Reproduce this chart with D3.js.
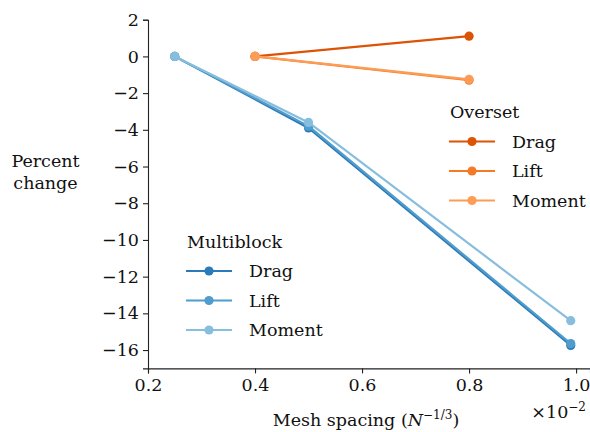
<!DOCTYPE html>
<html>
<head>
<meta charset="utf-8">
<script src="https://cdn.jsdelivr.net/npm/d3@7"></script>
<style>
  html, body { margin: 0; padding: 0; background: #fff; }
  svg text { font-family: "DejaVu Serif", serif; fill: #111; }
</style>
</head>
<body>
<svg id="chart" width="590" height="432"></svg>
<script>
// Mesh spacing values (×10^-2) for each grid family
const multiblockSpacing = [0.25, 0.5, 0.99];
const oversetSpacing = [0.4, 0.8];

// Percent change of each force coefficient
const multiblockDrag = [0, -3.9, -15.75];
const multiblockLift = [0, -3.8, -15.65];
const multiblockMoment = [0, -3.6, -14.4];
const oversetDrag = [0, 1.1];
const oversetLift = [0, -1.3];
const oversetMoment = [0, -1.25];

const seriesNames = ["Drag", "Lift", "Moment"];
const xTicks = [0.2, 0.4, 0.6, 0.8, 1.0];
const yTicks = [-16, -14, -12, -10, -8, -6, -4, -2, 0, 2];

const blues = ["#2b7bba", "#4f9ccd", "#88bedd"];
const oranges = ["#dc5306", "#f47a28", "#fc9c55"];

const FONT = "DejaVu Serif, serif";
const FS = 17.5;
const svg = d3.select("#chart");

const x = d3.scaleLinear().domain([0.2, 1.026]).range([148, 590]);
const y = d3.scaleLinear().domain([-17, 2]).range([368.4, 19.7]);

// Axes: left and bottom spines only
const xAxis = d3.axisBottom(x).tickValues(xTicks).tickFormat(d3.format(".1f")).tickSizeOuter(0).tickSize(5).tickPadding(5);
const yAxis = d3.axisLeft(y).tickValues(yTicks)
  .tickFormat(d => (d < 0 ? "\u2212" + Math.abs(d) : String(d)))
  .tickSizeOuter(0).tickSize(5).tickPadding(4);

const gx = svg.append("g").attr("transform", `translate(0,${y(-17)})`).call(xAxis);
const gy = svg.append("g").attr("transform", `translate(${x(0.2)},0)`).call(yAxis);
[gx, gy].forEach(g => {
  g.attr("font-family", FONT);
  g.select(".domain").attr("stroke", "#222").attr("stroke-width", 1.1);
  g.selectAll(".tick line").attr("stroke", "#222").attr("stroke-width", 1.1);
  g.selectAll(".tick text").attr("font-size", FS).attr("font-family", FONT).attr("fill", "#111");
});

// Series drawing
const line = d3.line().x(d => x(d[0])).y(d => y(d[1]));

function drawSeries(xs, ys, color) {
  const pts = xs.map((v, i) => [v, ys[i]]);
  svg.append("path").datum(pts).attr("d", line)
    .attr("fill", "none").attr("stroke", color).attr("stroke-width", 2.2)
    .attr("stroke-linejoin", "round");
  svg.append("g").selectAll("circle").data(pts).join("circle")
    .attr("cx", d => x(d[0])).attr("cy", d => y(d[1])).attr("r", 4.6)
    .attr("fill", color);
}

[multiblockDrag, multiblockLift, multiblockMoment].forEach((s, i) => drawSeries(multiblockSpacing, s, blues[i]));
[oversetDrag, oversetLift, oversetMoment].forEach((s, i) => drawSeries(oversetSpacing, s, oranges[i]));

// Legends
function legend(x0, y0, title, colors) {
  const g = svg.append("g").attr("font-family", FONT);
  g.append("text").attr("x", x0).attr("y", y0).attr("dy", "0.35em")
    .attr("font-size", FS).text(title);
  seriesNames.forEach((name, i) => {
    const yy = y0 + 29.5 * (i + 1);
    g.append("line").attr("x1", x0 - 1).attr("x2", x0 + 45).attr("y1", yy).attr("y2", yy)
      .attr("stroke", colors[i]).attr("stroke-width", 2.2);
    g.append("circle").attr("cx", x0 + 22).attr("cy", yy).attr("r", 4.6).attr("fill", colors[i]);
    g.append("text").attr("x", x0 + 62).attr("y", yy).attr("dy", "0.35em")
      .attr("font-size", FS).text(name);
  });
}
legend(450, 112, "Overset", oranges);
legend(187, 241.5, "Multiblock", blues);

// Axis titles
const yl = svg.append("text").attr("text-anchor", "middle").attr("font-size", FS).attr("font-family", FONT);
yl.append("tspan").attr("x", 45.5).attr("y", 167).text("Percent");
yl.append("tspan").attr("x", 45.5).attr("y", 189).text("change");

const xl = svg.append("text").attr("x", 366).attr("y", 426).attr("text-anchor", "middle")
  .attr("font-size", FS).attr("font-family", FONT);
xl.append("tspan").text("Mesh spacing (");
xl.append("tspan").attr("font-style", "italic").text("N");
xl.append("tspan").attr("font-size", 12).attr("dy", -7).text("\u22121/3");
xl.append("tspan").attr("dy", 7).text(")");

const off = svg.append("text").attr("x", 586).attr("y", 418).attr("text-anchor", "end")
  .attr("font-size", FS).attr("font-family", FONT);
off.append("tspan").text("\u00d710");
off.append("tspan").attr("font-size", 12).attr("dy", -7).text("\u22122");
</script>
</body>
</html>
